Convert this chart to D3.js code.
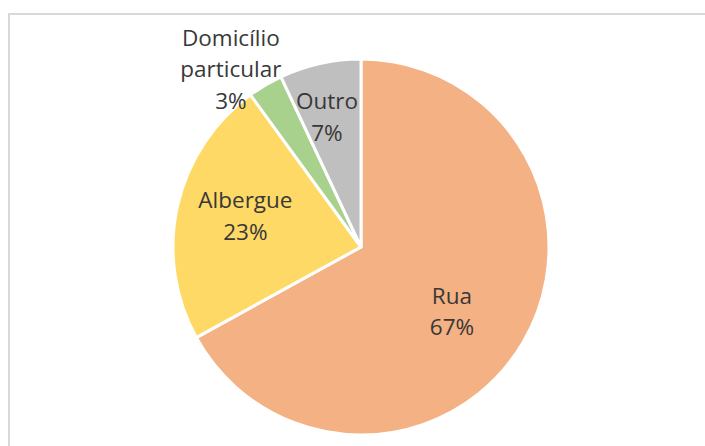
<!DOCTYPE html>
<html>
<head>
<meta charset="utf-8">
<script src="https://cdn.jsdelivr.net/npm/d3@7"></script>
<style>
  html, body { margin: 0; padding: 0; background: #fff; }
  svg { display: block; }
</style>
</head>
<body>
<svg id="chart" width="705" height="446"></svg>
<script>
// Where people were found: share by location type
const categories = ["Rua", "Albergue", "Domicílio particular", "Outro"];
const values = [67, 23, 3, 7];
const colors = ["#F4B183", "#FFD966", "#A9D18E", "#BFBFBF"];

// label layout: radius factor for the label anchor and small nudges (px)
const labelLayout = {
  "Rua":                  { r: 0.63, dx: -11, dy: 3 },
  "Albergue":             { r: 0.63, dx: 0,   dy: -6 },
  "Domicílio particular": { r: 1.13, dx: -22, dy: 4 },
  "Outro":                { r: 0.66, dx: -7,  dy: -10 }
};

const W = 705, H = 446;
const cx = 361, cy = 247, R = 188;

const svg = d3.select("#chart");

// chart area frame
svg.append("rect")
  .attr("x", 9).attr("y", 14)
  .attr("width", W + 20).attr("height", H + 20)
  .attr("fill", "#fff")
  .attr("stroke", "#d9d9d9")
  .attr("stroke-width", 2);

const data = categories.map((c, i) => ({ name: c, value: values[i], color: colors[i] }));

const pie = d3.pie().value(d => d.value).sort(null);
const arc = d3.arc().innerRadius(0).outerRadius(R);
const arcs = pie(data);

const g = svg.append("g").attr("transform", `translate(${cx},${cy})`);

g.selectAll("path.slice")
  .data(arcs)
  .join("path")
  .attr("class", "slice")
  .attr("d", arc)
  .attr("fill", d => d.data.color)
  .attr("stroke", "#fff")
  .attr("stroke-width", 3)
  .attr("stroke-linejoin", "round");

const fmt = v => d3.format(".0f")(v) + "%";

arcs.forEach(a => {
  const lay = labelLayout[a.data.name];
  const mid = (a.startAngle + a.endAngle) / 2;
  const x = Math.sin(mid) * R * lay.r + lay.dx;
  const y = -Math.cos(mid) * R * lay.r + lay.dy;
  const lines = a.data.name.split(" ").concat([fmt(a.data.value)]);
  const lh = 31.5;
  const t = g.append("text")
    .attr("x", x)
    .attr("y", y - (lines.length - 1) * lh / 2)
    .attr("text-anchor", "middle")
    .attr("dominant-baseline", "central")
    .attr("font-family", "'Open Sans', 'Noto Sans', sans-serif")
    .attr("font-size", 22.5)
    .attr("fill", "#383838");
  lines.forEach((ln, i) => {
    t.append("tspan")
      .attr("x", x)
      .attr("dy", i === 0 ? 0 : lh)
      .text(ln);
  });
});
</script>
</body>
</html>
